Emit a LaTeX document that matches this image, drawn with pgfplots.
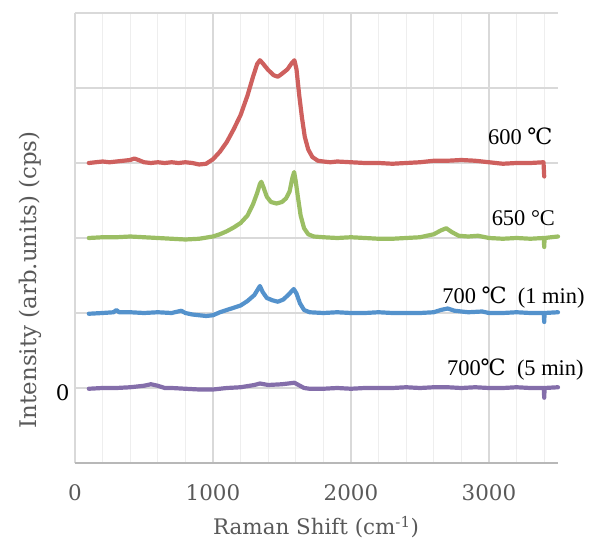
\documentclass[border=0pt]{standalone}
\usepackage{fontspec}
\setmainfont{Liberation Serif}
\newfontfamily\axisfont{DejaVu Serif}
\usepackage{pgfplots}
\pgfplotsset{compat=1.18}
\definecolor{cred}{RGB}{206,96,94}
\definecolor{cgreen}{RGB}{155,190,100}
\definecolor{cblue}{RGB}{84,146,204}
\definecolor{cpurple}{RGB}{132,110,170}
\definecolor{txtgray}{RGB}{89,89,89}
\definecolor{gridmaj}{RGB}{217,217,217}
\definecolor{gridmin}{RGB}{238,238,238}
\begin{document}
\begin{tikzpicture}
\begin{axis}[
  scale only axis, width=483bp, height=450bp,
  xmin=0, xmax=3500, ymin=-1, ymax=5,
  clip=false,
  axis line style={draw=none},
  xtick={0,1000,2000,3000},
  minor xtick={200,400,600,800,1200,1400,1600,1800,2200,2400,2600,2800,3200,3400},
  ytick={-1,0,1,2,3,4,5},
  yticklabels={{},0,{},{},{},{},{}},
  major tick length=0pt, minor tick length=0pt,
  xmajorgrids, ymajorgrids, xminorgrids,
  major grid style={draw=gridmaj, line width=1.3bp},
  minor grid style={draw=gridmin, line width=1.1bp},
  /pgf/number format/assume math mode=true,
  /pgf/number format/1000 sep={},
  xticklabel style={font=\axisfont\fontsize{21.5}{22}\selectfont, text=txtgray, yshift=-18bp},
  yticklabel style={font=\axisfont\fontsize{21.5}{22}\selectfont, text=black, yshift=-5bp, xshift=-2bp},
  xlabel={Raman Shift (cm\textsuperscript{-1})},
  ylabel={Intensity (arb.units) (cps)},
  xlabel style={font=\axisfont\fontsize{21.5}{22}\selectfont, text=txtgray, at={(axis description cs:0.499,-0.142)}, anchor=center},
  ylabel style={font=\axisfont\fontsize{23}{24}\selectfont, text=txtgray, at={(axis description cs:-0.093,0.407)}, anchor=center},
  every axis plot/.append style={line width=4.2bp, line join=round, line cap=round},
]
\draw[draw=gridmaj!85!black, line width=1.5bp] (rel axis cs:0,0) -- (rel axis cs:1,0);
% 600 C
\addplot[cred] coordinates {
(100,3.00)(150,3.01)(200,3.02)(250,3.01)(300,3.02)(350,3.03)(400,3.04)(430,3.06)(460,3.04)(500,3.01)
(550,3.00)(600,3.01)(650,3.00)(700,3.01)(750,3.00)(800,3.01)(850,3.00)(900,2.98)(950,2.99)(1000,3.05)
(1050,3.15)(1100,3.28)(1150,3.45)(1200,3.64)(1250,3.90)(1290,4.15)(1320,4.32)(1340,4.37)(1360,4.33)
(1400,4.24)(1440,4.17)(1470,4.15)(1500,4.19)(1540,4.25)(1570,4.33)(1590,4.37)(1605,4.25)(1625,3.90)
(1645,3.60)(1665,3.35)(1690,3.18)(1720,3.08)(1760,3.03)(1800,3.02)(1850,3.01)(1900,3.02)(2000,3.01)
(2100,3.00)(2200,3.00)(2300,2.99)(2400,3.00)(2500,3.01)(2600,3.03)(2700,3.03)(2800,3.04)(2900,3.03)
(3000,3.01)(3100,2.99)(3200,3.00)(3300,3.00)(3395,3.01)(3400,2.82)
};
% 650 C
\addplot[cgreen] coordinates {
(100,2.00)(200,2.01)(300,2.01)(400,2.02)(500,2.01)(600,2.00)(700,1.99)(800,1.98)(900,1.99)(1000,2.02)
(1050,2.05)(1100,2.09)(1150,2.14)(1200,2.20)(1250,2.30)(1290,2.45)(1320,2.60)(1340,2.72)(1350,2.75)
(1365,2.68)(1390,2.55)(1420,2.48)(1460,2.46)(1500,2.48)(1530,2.53)(1555,2.62)(1575,2.80)(1588,2.88)
(1600,2.75)(1615,2.55)(1635,2.30)(1660,2.13)(1690,2.05)(1730,2.02)(1800,2.01)(1900,2.00)(2000,2.01)
(2100,2.00)(2200,1.99)(2300,1.99)(2400,2.00)(2500,2.01)(2600,2.05)(2650,2.10)(2690,2.13)(2730,2.08)
(2780,2.03)(2850,2.02)(2920,2.03)(3000,2.00)(3100,1.99)(3200,2.00)(3300,1.99)(3397,2.00)(3400,1.88)
(3403,2.00)(3450,2.01)(3500,2.02)
};
% 700 C 1 min
\addplot[cblue] coordinates {
(100,0.99)(200,1.00)(280,1.01)(300,1.04)(320,1.01)(400,1.01)(500,1.00)(600,1.01)(700,1.00)(770,1.03)
(800,1.00)(850,0.98)(900,0.97)(950,0.96)(1000,0.97)(1050,1.01)(1100,1.04)(1150,1.07)(1200,1.10)
(1250,1.16)(1300,1.24)(1340,1.36)(1360,1.28)(1390,1.20)(1430,1.17)(1470,1.15)(1510,1.18)(1550,1.25)
(1585,1.32)(1605,1.26)(1630,1.13)(1660,1.04)(1700,1.01)(1800,1.00)(1900,1.01)(2000,1.00)(2100,1.00)
(2200,1.01)(2300,1.00)(2400,1.00)(2500,1.00)(2600,1.01)(2650,1.04)(2700,1.06)(2750,1.03)(2850,1.01)
(2950,1.02)(3000,1.00)(3100,1.00)(3200,1.01)(3300,1.00)(3397,1.00)(3400,0.88)(3403,1.00)(3500,1.01)
};
% 700 C 5 min
\addplot[cpurple] coordinates {
(100,-0.01)(200,0.00)(300,0.00)(400,0.01)(500,0.03)(550,0.05)(600,0.03)(650,0.00)(700,0.00)(800,-0.01)
(900,-0.02)(1000,-0.02)(1100,0.00)(1200,0.01)(1300,0.04)(1340,0.06)(1400,0.04)(1500,0.05)(1590,0.07)
(1620,0.04)(1660,0.00)(1700,-0.01)(1800,-0.01)(1900,0.00)(2000,-0.01)(2100,0.00)(2200,0.00)(2300,0.00)
(2400,0.01)(2500,0.00)(2600,0.01)(2700,0.01)(2800,0.00)(2900,0.01)(3000,0.00)(3100,0.00)(3200,0.01)
(3300,0.00)(3397,0.00)(3400,-0.13)(3403,0.00)(3500,0.01)
};
\node[font=\fontsize{22.5}{23}\selectfont] at (axis cs:3227,3.35) {600 {\axisfont ℃}};
\node[font=\fontsize{22.5}{23}\selectfont] at (axis cs:3249,2.27) {650 °C};
\node[font=\fontsize{22.5}{23}\selectfont] at (axis cs:3177,1.20) {700 {\axisfont ℃}\ \ (1 min)};
\node[font=\fontsize{22.5}{23}\selectfont] at (axis cs:3191,0.24) {700{\axisfont ℃}\ \ (5 min)};
\path ([shift={(-75bp,-80bp)}]rel axis cs:0,0) rectangle ([shift={(34bp,13bp)}]rel axis cs:1,1);
\end{axis}
\end{tikzpicture}
\end{document}
